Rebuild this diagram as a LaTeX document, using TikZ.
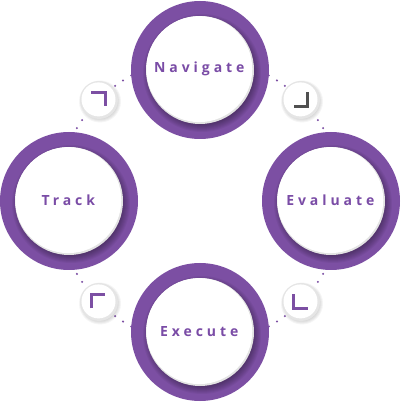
\documentclass[tikz,border=0pt]{standalone}
\usepackage{fontspec}
\setmainfont{Open Sans}
\usetikzlibrary{shapes,positioning,calc}
\definecolor{RingPurple}{RGB}{124, 79, 163}
\definecolor{TextPurple}{RGB}{122, 76, 166}
\definecolor{TickGray}{RGB}{80, 80, 80}
\newfontfamily\stepfont[LetterSpace=28]{Open Sans}
\newcommand{\steplabel}[1]{\textcolor{TextPurple}{\stepfont\bfseries\fontsize{14}{16}\selectfont #1}}

\begin{document}
\begin{tikzpicture}[x=1pt, y=1pt,
    ring/.style={circle, fill=RingPurple, minimum size=138pt, inner sep=0pt},
    disc/.style={circle, fill=white, minimum size=106pt, inner sep=0pt},
    knob/.style={circle, fill=white, minimum size=34pt, inner sep=0pt},
    tick/.style={line width=2.4pt, line cap=butt, line join=miter}]
    \useasboundingbox (-200,-205) rectangle (203,201);
    \coordinate (hub) at (0,0);

    % dotted ring behind everything
    \draw[RingPurple, line width=2.3pt, line cap=round, dash pattern=on 0pt off 9.56pt] (hub) circle (143);

    \foreach \name/\pos/\txt in {nav/{0,131}/Navigate, eva/{131,0}/Evaluate, exe/{0,-131}/Execute, trk/{-131,0}/Track} {
      \node[ring] (\name) at (\pos) {};
      % soft shadow of the white disc
      \foreach \k in {0,...,7}
        \fill[black, opacity=0.045] ($(\name)+(2,-3)$) circle (52+\k);
      \fill[gray!22] (\name) circle (54);
      \node[disc] (\name-in) at ($(\name)+(-0.7,0.9)$) {\steplabel{\txt}};
    }

    \foreach \name/\pos in {tl/{-101,101}, tr/{101,101}, br/{101,-101}, bl/{-101,-101}} {
      \coordinate (\name-c) at (\pos);
      \foreach \k in {0,...,4}
        \fill[black, opacity=0.04] ($(\name-c)+(1,-1.5)$) circle (17+\k);
      \fill[gray!20] (\name-c) circle (19);
      \node[knob] (\name) at ($(\name-c)+(-0.5,0.6)$) {};
    }

    % corner marks
    \draw[tick, RingPurple] ([shift={(-7,7)}]tl.center) -- ++(14,0) -- ++(0,-14);
    \draw[tick, TickGray] ([shift={(7,7)}]tr.center) -- ++(0,-14) -- ++(-14,0);
    \draw[tick, RingPurple] ([shift={(-7,7)}]br.center) -- ++(0,-14) -- ++(14,0);
    \draw[tick, RingPurple] ([shift={(-7,-7)}]bl.center) -- ++(0,14) -- ++(14,0);
\end{tikzpicture}
\end{document}
